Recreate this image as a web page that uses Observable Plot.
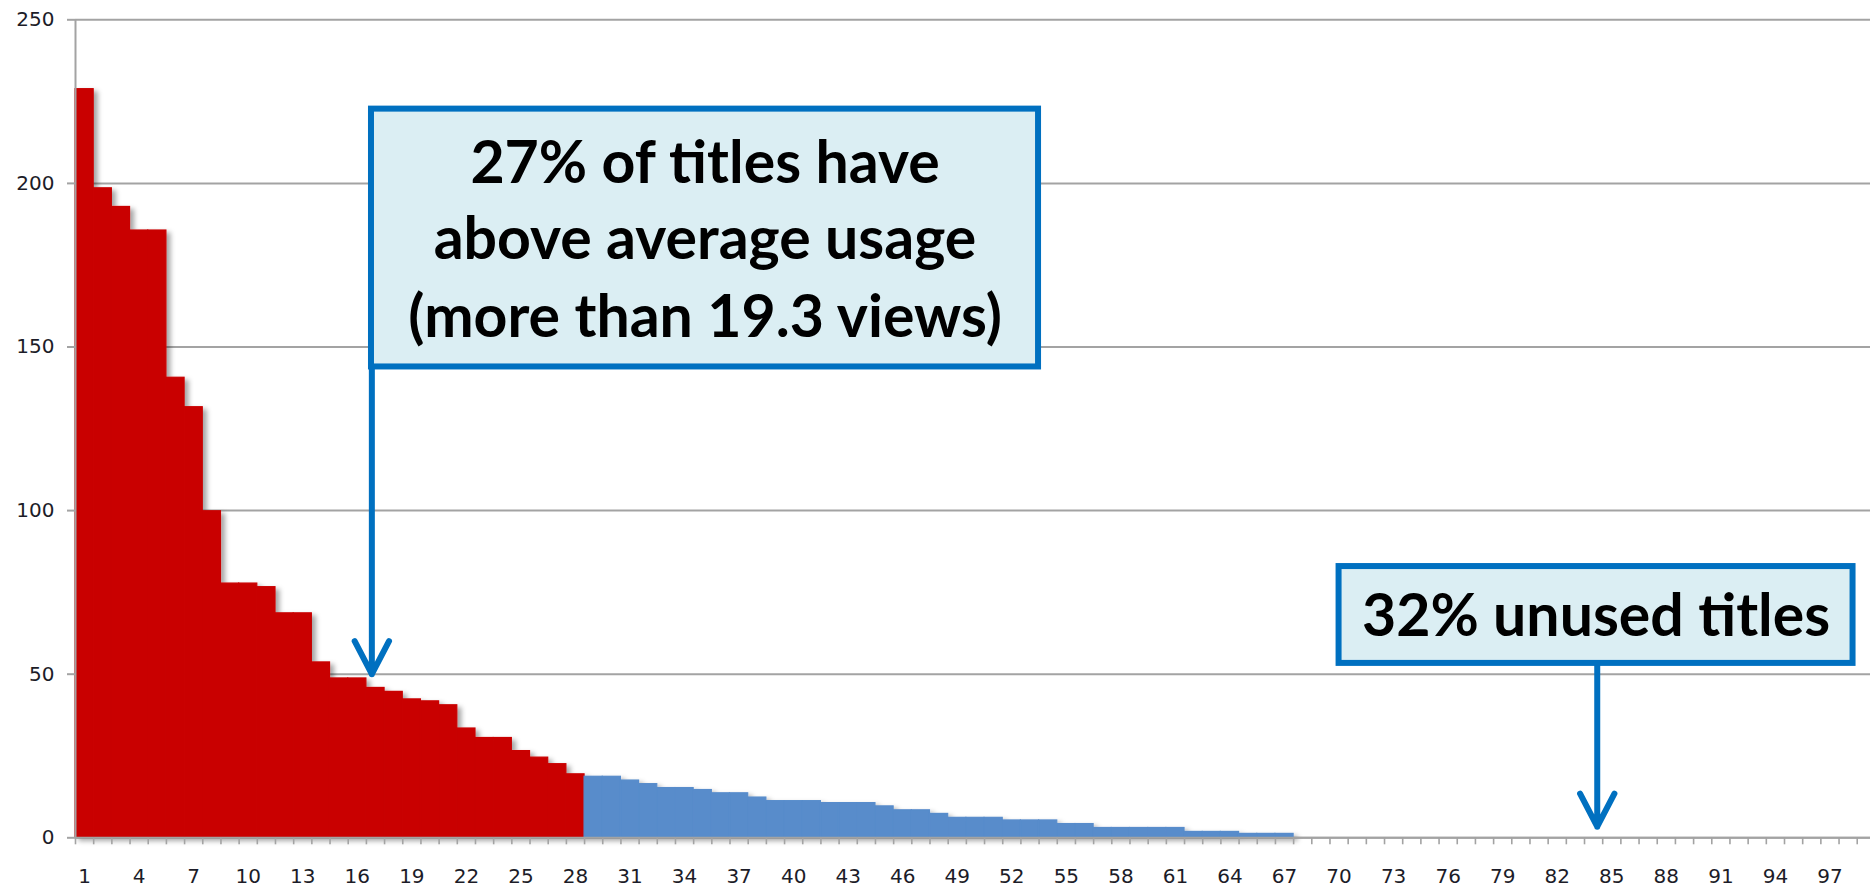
<!DOCTYPE html>
<html>
<head>
<meta charset="utf-8">
<script src="https://cdn.jsdelivr.net/npm/d3@7"></script>
<script src="https://cdn.jsdelivr.net/npm/@observablehq/plot@0.6"></script>
<style>
  html, body { margin: 0; padding: 0; background: #ffffff; }
  #chart svg { display: block; }
</style>
</head>
<body>
<div id="chart"></div>
<script>
// ---- Data ----
// Views per title, titles sorted by usage (rank 1 = most viewed). Ranks 68+ are unused (0 views).
const views = [
  228.8, 198.5, 192.8, 185.6, 185.6, 140.6, 131.6, 99.8, 77.7, 77.7,
  76.6, 68.6, 68.6, 53.6, 48.7, 48.7, 45.8, 44.6, 42.3, 41.7,
  40.5, 33.4, 30.5, 30.5, 26.5, 24.5, 22.5, 19.4, 18.65, 18.65,
  17.5, 16.4, 15.2, 15.2, 14.6, 13.6, 13.6, 12.3, 11.2, 11.2,
  11.2, 10.6, 10.6, 10.6, 9.6, 8.4, 8.4, 7.3, 6.1, 6.1,
  6.1, 5.3, 5.3, 5.3, 4.2, 4.2, 3.0, 3.0, 3.0, 3.0,
  3.0, 1.8, 1.8, 1.8, 1.2, 1.2, 1.2
];
const aboveAverageCount = 28;          // first 28 ranks are above average
const visibleRankMax = 99.23;          // axis runs past rank 98 to the cropped right edge
const yTicks = [0, 50, 100, 150, 200, 250];
const xTickLabels = [1, 4, 7, 10, 13, 16, 19, 22, 25, 28, 31, 34, 37, 40, 43, 46, 49,
                     52, 55, 58, 61, 64, 67, 70, 73, 76, 79, 82, 85, 88, 91, 94, 97];
const groupNames = ["above average", "below average"];
const groupColors = ["#C90505", "#588CCB"];

// Annotations (positions in data units: rank, views)
const noteAboveLines = ["27% of titles have", "above average usage", "(more than 19.3 views)"];
const noteAboveBaselines = [200.0, 176.9, 153.0];
const noteUnusedLines = ["32% unused titles"];
const noteUnusedBaselines = [61.8];
const boxes = [
  {x1: 16.78, x2: 53.47, y1: 143.9, y2: 222.7},
  {x1: 70.0, x2: 98.27, y1: 53.3, y2: 82.9}
];
const arrows = [
  {x: 16.80, from: 143.9, to: 50.0},
  {x: 84.2, from: 53.3, to: 3.4}
];

// ---- Build table ----
const table = views.map((v, i) => ({
  rank: i + 1,
  views: v,
  group: i < aboveAverageCount ? groupNames[0] : groupNames[1]
}));
const tickBoundaries = d3.range(0.5, 99, 1);
const noteRows = [
  ...noteAboveLines.map((t, i) => ({text: t, x: (boxes[0].x1 + boxes[0].x2) / 2, y: noteAboveBaselines[i]})),
  ...noteUnusedLines.map((t, i) => ({text: t, x: (boxes[1].x1 + boxes[1].x2) / 2, y: noteUnusedBaselines[i]}))
];

const gridColor = "#a3a3a3";
const labelColor = "#1c1c28";
const noteBlue = "#0070C0";

const chart = Plot.plot({
  width: 1870,
  height: 885,
  marginLeft: 75,
  marginRight: 0,
  marginTop: 19.3,
  marginBottom: 47.7,
  x: {type: "linear", domain: [0.5, visibleRankMax]},
  y: {domain: [0, 250]},
  color: {domain: groupNames, range: groupColors},
  style: {
    background: "#ffffff",
    fontFamily: "'DejaVu Sans', Verdana, sans-serif",
    fontSize: "20px",
    overflow: "visible"
  },
  marks: [
    Plot.gridY(yTicks, {stroke: gridColor, strokeOpacity: 1, strokeWidth: 2}),
    Plot.rect(table, {
      x1: d => d.rank - 0.5,
      x2: d => d.rank + 0.5,
      y1: 0,
      y2: "views",
      fill: "group",
      stroke: "group",
      strokeWidth: 1.2
    }),
    Plot.ruleY([0], {stroke: gridColor, strokeWidth: 2}),
    Plot.ruleX([0.5], {stroke: gridColor, strokeWidth: 2}),
    Plot.axisY(yTicks, {
      tickSize: 8, tickPadding: 13, stroke: gridColor, strokeWidth: 2,
      fill: labelColor, fontSize: 20, label: null
    }),
    Plot.axisX(tickBoundaries, {
      tickSize: 7, tickFormat: () => "", stroke: gridColor, strokeWidth: 1.6, label: null
    }),
    Plot.axisX(xTickLabels, {
      tickSize: 0, tickPadding: 31, fill: labelColor, fontSize: 20, label: null
    }),
    Plot.arrow(arrows, {
      x1: "x", x2: "x", y1: "from", y2: "to",
      stroke: noteBlue, strokeWidth: 6, headAngle: 55, headLength: 9.3,
      strokeLinecap: "round", strokeLinejoin: "round"
    }),
    Plot.rect(boxes, {
      x1: "x1", x2: "x2", y1: "y1", y2: "y2",
      fill: "#DBEEF3", stroke: noteBlue, strokeWidth: 6
    }),
    Plot.text(noteRows, {
      x: "x", y: "y", text: "text",
      fontFamily: "Lato, 'Open Sans', sans-serif",
      fontWeight: "bold", fontSize: 59,
      lineAnchor: "bottom", textAnchor: "middle", fill: "#000000"
    })
  ]
});

// soft drop shadow on the bars, like the original spreadsheet chart
const ns = "http://www.w3.org/2000/svg";
const defs = document.createElementNS(ns, "defs");
defs.innerHTML = '<filter id="barShadow" x="-5%" y="-5%" width="115%" height="115%">' +
  '<feDropShadow dx="4" dy="3" stdDeviation="2.5" flood-color="#000" flood-opacity="0.35"/></filter>';
chart.insertBefore(defs, chart.firstChild);
const rectGroups = chart.querySelectorAll('g[aria-label="rect"]');
if (rectGroups.length) rectGroups[0].setAttribute("filter", "url(#barShadow)");

document.getElementById("chart").appendChild(chart);
</script>
</body>
</html>
